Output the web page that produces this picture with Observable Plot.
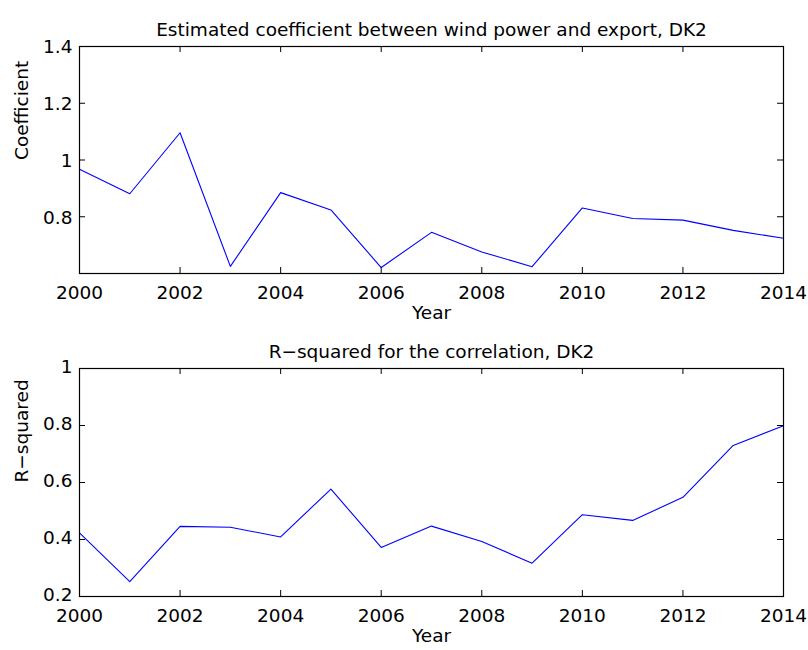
<!DOCTYPE html>
<html>
<head>
<meta charset="utf-8">
<script src="https://cdn.jsdelivr.net/npm/d3@7"></script>
<script src="https://cdn.jsdelivr.net/npm/@observablehq/plot@0.6"></script>
<style>
  html, body { margin: 0; padding: 0; background: #fff; }
  #chart { width: 808px; }
  #chart svg { display: block; }
</style>
</head>
<body>
<div id="chart"></div>
<script>
(function() {
  "use strict";

  var years = [2000, 2001, 2002, 2003, 2004, 2005, 2006, 2007, 2008, 2009, 2010, 2011, 2012, 2013, 2014];
  var coefficient = [0.967, 0.881, 1.096, 0.625, 0.885, 0.824, 0.621, 0.745, 0.676, 0.624, 0.831, 0.794, 0.788, 0.752, 0.724];
  var rSquared = [0.423, 0.252, 0.446, 0.443, 0.409, 0.577, 0.372, 0.447, 0.393, 0.317, 0.487, 0.467, 0.548, 0.730, 0.799];
  var yearTicks = [2000, 2002, 2004, 2006, 2008, 2010, 2012, 2014];
  var coefTicks = [0.8, 1, 1.2, 1.4];
  var rsqTicks = [0.2, 0.4, 0.6, 0.8, 1];

  var FONT = "'DejaVu Sans', 'Liberation Sans', sans-serif";
  var WIDTH = 808;
  var HEIGHT = 325;
  var TICK = 6;

  function buildPanel(cfg) {
    var rows = years.map(function(year, i) {
      return { year: year, value: cfg.values[i] };
    });
    var frameW = WIDTH - cfg.marginLeft - cfg.marginRight;
    var frameH = HEIGHT - cfg.marginTop - cfg.marginBottom;

    return Plot.plot({
      width: WIDTH,
      height: HEIGHT,
      marginTop: cfg.marginTop,
      marginBottom: cfg.marginBottom,
      marginLeft: cfg.marginLeft,
      marginRight: cfg.marginRight,
      style: { fontFamily: FONT, fontSize: "18px", color: "#000", background: "#fff" },
      x: { domain: [2000, 2014] },
      y: { domain: cfg.domain },
      marks: [
        Plot.line(rows, { x: "year", y: "value", stroke: "#0000ff", strokeWidth: 1.1 }),
        // inward ticks on all four sides, like a boxed axis
        Plot.tickX(yearTicks, { x: function(d) { return d; }, insetTop: frameH - TICK, stroke: "#000" }),
        Plot.tickX(yearTicks, { x: function(d) { return d; }, insetBottom: frameH - TICK, stroke: "#000" }),
        Plot.tickY(cfg.ticks, { y: function(d) { return d; }, insetRight: frameW - TICK, stroke: "#000" }),
        Plot.tickY(cfg.ticks, { y: function(d) { return d; }, insetLeft: frameW - TICK, stroke: "#000" }),
        Plot.frame({ stroke: "#000", strokeWidth: 1.2 }),
        Plot.axisX({ ticks: yearTicks, tickSize: 0, tickPadding: cfg.xPad, tickFormat: d3.format("d"), label: null, fontSize: 18.5 }),
        Plot.axisY({ ticks: cfg.ticks, tickSize: 0, tickPadding: 7, dy: cfg.yDy, tickFormat: function(d) { return String(d); }, label: null, fontSize: 18.5 }),
        Plot.text([cfg.title], { frameAnchor: "top", dy: -24, fontSize: 18.5, text: function(d) { return d; } }),
        Plot.text(["Year"], { frameAnchor: "bottom", dy: 45, fontSize: 18.5, text: function(d) { return d; } }),
        Plot.text([cfg.yLabel], { frameAnchor: "left", dx: -57, rotate: -90, fontSize: 18.5, text: function(d) { return d; } })
      ]
    });
  }

  var el = document.getElementById("chart");

  el.appendChild(buildPanel({
    values: coefficient,
    domain: [0.6, 1.4],
    ticks: coefTicks,
    title: "Estimated coefficient between wind power and export, DK2",
    yLabel: "Coefficient",
    marginTop: 46,
    marginBottom: 52,
    marginLeft: 79,
    marginRight: 25,
    xPad: 12,
    yDy: 1
  }));

  el.appendChild(buildPanel({
    values: rSquared,
    domain: [0.2, 1],
    ticks: rsqTicks,
    title: "R\u2212squared for the correlation, DK2",
    yLabel: "R\u2212squared",
    marginTop: 43,
    marginBottom: 54,
    marginLeft: 79,
    marginRight: 25,
    xPad: 12,
    yDy: -1
  }));
})();
</script>
</body>
</html>
